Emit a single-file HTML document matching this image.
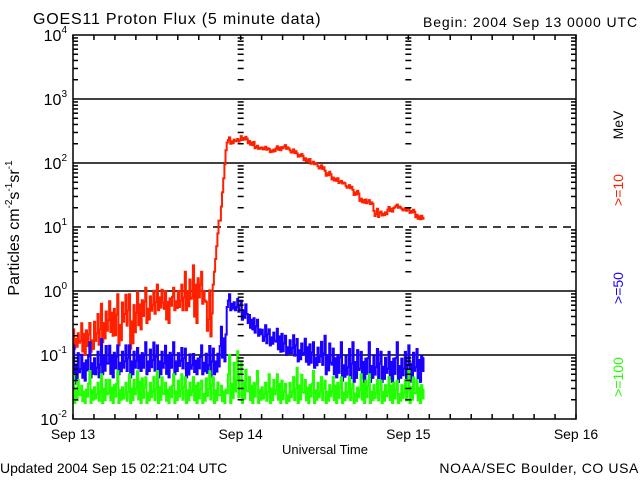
<!DOCTYPE html>
<html><head><meta charset="utf-8"><style>
html,body{margin:0;padding:0;background:#fff;}
svg{display:block;font-family:"Liberation Sans",sans-serif;}
</style></head><body>
<svg id="chart" width="640" height="480" viewBox="0 0 640 480">
<text x="33" y="24" font-size="16" letter-spacing="0.8">GOES11 Proton Flux (5 minute data)</text>
<text x="638" y="27" font-size="14" letter-spacing="0.9" text-anchor="end">Begin: 2004 Sep 13 0000 UTC</text>
<g id="grid"></g>
<g id="series"></g>
<rect x="73" y="35" width="503" height="384" fill="none" stroke="#000" stroke-width="1.5"/>
<g id="axes"></g>
<text x="325" y="454" font-size="13" text-anchor="middle">Universal Time</text>
<text transform="translate(19,228) rotate(-90)" font-size="16" text-anchor="middle">Particles cm<tspan font-size="10" dy="-7">-2</tspan><tspan dy="7">s</tspan><tspan font-size="10" dy="-7">-1</tspan><tspan dy="7">sr</tspan><tspan font-size="10" dy="-7">-1</tspan></text>
<text transform="translate(623,125) rotate(-90)" font-size="14" text-anchor="middle">MeV</text>
<text transform="translate(623,190) rotate(-90)" font-size="14" fill="#ff2000" text-anchor="middle">&gt;=10</text>
<text transform="translate(623,288) rotate(-90)" font-size="14" fill="#1a00ff" text-anchor="middle">&gt;=50</text>
<text transform="translate(623,377) rotate(-90)" font-size="14" fill="#22ff00" text-anchor="middle">&gt;=100</text>
<text x="0" y="473" font-size="14">Updated 2004 Sep 15 02:21:04 UTC</text>
<text x="639" y="473" font-size="14" letter-spacing="0.6" text-anchor="end">NOAA/SEC Boulder, CO USA</text>
</svg>
<script>
const dayLabels = ["Sep 13","Sep 14","Sep 15","Sep 16"];
const decadeExps = [-2,-1,0,1,2,3,4];
const endHour = 50.3;
const redRampHours = [20,21];
// hourly envelopes in log10(flux)
const p10Lo = [-0.9,-1.0,-0.95,-0.9,-0.8,-0.7,-0.85,-0.6,-0.9,-0.6,-0.5,-0.4,-0.3,-0.5,-0.3,-0.35,-0.3,-0.5,-0.2,-0.8,0.1,1.1,2.3,2.33,2.36,2.28,2.22,2.2,2.17,2.2,2.22,2.15,2.1,2.02,1.98,1.9,1.8,1.72,1.68,1.6,1.5,1.38,1.36,1.14,1.18,1.24,1.3,1.25,1.22,1.12,1.12];
const p10Hi = [-0.6,-0.45,-0.5,-0.3,-0.2,-0.1,-0.05,0.0,-0.05,0.05,0.05,0.05,0.1,0.05,0.05,0.15,0.3,0.5,0.3,0.1,1.1,2.2,2.4,2.38,2.42,2.35,2.27,2.26,2.22,2.27,2.28,2.22,2.15,2.08,2.02,1.97,1.88,1.78,1.72,1.66,1.58,1.45,1.42,1.3,1.24,1.32,1.35,1.3,1.28,1.2,1.16];
const p50Lo = [-1.45,-1.4,-1.35,-1.4,-1.3,-1.35,-1.3,-1.3,-1.35,-1.25,-1.3,-1.3,-1.35,-1.35,-1.3,-1.25,-1.35,-1.3,-1.3,-1.4,-1.3,-1.1,-0.3,-0.35,-0.45,-0.6,-0.7,-0.85,-0.85,-0.95,-1.0,-1.05,-1.1,-1.15,-1.2,-1.2,-1.3,-1.35,-1.4,-1.42,-1.42,-1.42,-1.42,-1.42,-1.42,-1.42,-1.42,-1.42,-1.42,-1.42,-1.35];
const p50Hi = [-0.85,-0.95,-0.8,-0.9,-0.75,-0.8,-0.85,-0.8,-0.85,-0.85,-0.8,-0.75,-0.85,-0.8,-0.8,-0.85,-0.9,-0.95,-0.85,-0.8,-0.9,-0.5,-0.05,-0.1,-0.15,-0.35,-0.45,-0.5,-0.6,-0.55,-0.7,-0.65,-0.75,-0.7,-0.8,-0.75,-0.7,-0.85,-0.8,-0.85,-0.8,-0.9,-0.8,-0.85,-0.95,-0.9,-0.8,-0.9,-0.85,-0.85,-0.85];
const p100Lo = [-1.75,-1.75,-1.75,-1.75,-1.75,-1.75,-1.75,-1.75,-1.75,-1.75,-1.75,-1.75,-1.75,-1.75,-1.75,-1.75,-1.75,-1.75,-1.75,-1.75,-1.75,-1.75,-1.75,-1.75,-1.75,-1.75,-1.75,-1.75,-1.75,-1.75,-1.75,-1.75,-1.75,-1.75,-1.75,-1.75,-1.75,-1.75,-1.75,-1.75,-1.75,-1.75,-1.75,-1.75,-1.75,-1.75,-1.75,-1.75,-1.75,-1.75,-1.75];
const p100Hi = [-1.3,-1.45,-1.25,-1.4,-1.3,-1.35,-1.25,-1.4,-1.3,-1.2,-1.35,-1.3,-1.25,-1.4,-1.3,-1.25,-1.35,-1.3,-1.4,-1.2,-1.35,-1.45,-1.0,-0.85,-1.1,-1.3,-1.25,-1.4,-1.3,-1.25,-1.45,-1.3,-1.2,-1.35,-1.25,-1.3,-1.4,-1.3,-1.35,-1.3,-1.45,-1.25,-1.3,-1.35,-1.4,-1.3,-1.4,-1.35,-1.25,-1.35,-1.4];

const NS='http://www.w3.org/2000/svg';
const X0=73,X1=576,Y0=35,Y1=419;
function xScale(h){return X0+(X1-X0)*h/72;}
function yScale(lg){return Y1-(Y1-Y0)*(lg+2)/6;}
function mk(tag,attrs,parent){const e=document.createElementNS(NS,tag);for(const k in attrs)e.setAttribute(k,attrs[k]);parent.appendChild(e);return e;}
const grid=document.getElementById('grid'),axes=document.getElementById('axes'),series=document.getElementById('series');

decadeExps.forEach(e=>{
  if(e===-2||e===4)return;
  const y=yScale(e);
  const l=mk('line',{x1:X0,x2:X1,y1:y,y2:y,stroke:'#000','stroke-width':1.5},grid);
  if(e===1)l.setAttribute('stroke-dasharray','8,6');
  
  
});
decadeExps.forEach(e=>{
  const y=yScale(e);
  const t=mk('text',{x:67,y:y+6,'font-size':16,'text-anchor':'end'},axes);
  t.innerHTML='10<tspan font-size="10" dy="-8">'+e+'</tspan>';
  
  
  if(e===4)return;
  for(let m=2;m<=9;m++){
    const yy=yScale(e+Math.log10(m));
    [[X0,X0+5],[X1-5,X1],[xScale(24)-3,xScale(24)+3],[xScale(48)-3,xScale(48)+3]].forEach(p=>{
      const tk=mk('line',{x1:p[0],x2:p[1],y1:yy,y2:yy,stroke:'#000','stroke-width':1.5},axes);
      
      
    });
  }
});
for(let h=0;h<=72;h+=3){
  const x=xScale(h);
  [[Y1,Y1-5],[Y0,Y0+5]].forEach(p=>{
    const tk=mk('line',{x1:x,x2:x,y1:p[0],y2:p[1],stroke:'#000','stroke-width':1.5},axes);
    
    
  });
}
dayLabels.forEach((d,i)=>{
  const t=mk('text',{x:xScale(i*24),y:439,'font-size':14,'text-anchor':'middle'},axes);
  t.textContent=d;
  
  
});

const patterns=[[1,0,0.5,0.1,0.8,0.3],[0.4,0.9,0.1,0.6,0,0.7],[0.2,0.6,1,0,0.4,0.1],[0.7,0.2,0.4,0.9,0.1,0.5]];
function drawSeries(lo,hi,color,name,ramps){
  let d='';
  for(let h=0;h<lo.length;h++){
    const pat=patterns[h%patterns.length];
    for(let s=0;s<6;s++){
      const t0=h+s/6,t1=h+(s+1)/6;
      if(t0>=endHour)break;
      const f=(ramps&&ramps.indexOf(h)>=0)?(s/5):pat[s];
      const v=lo[h]+(hi[h]-lo[h])*f;
      const y=yScale(v).toFixed(1);
      const xa=xScale(t0).toFixed(1),xb=xScale(Math.min(t1,endHour)).toFixed(1);
      d+=(d?'L':'M')+xa+','+y+'L'+xb+','+y;
    }
  }
  const p=mk('path',{d:d,fill:'none',stroke:color,'stroke-width':2},series);
  
  
}
drawSeries(p10Lo,p10Hi,'#ff2000','series-ge10-mev',redRampHours);
drawSeries(p50Lo,p50Hi,'#1a00ff','series-ge50-mev',null);
drawSeries(p100Lo,p100Hi,'#22ff00','series-ge100-mev',null);
</script>
</body></html>
